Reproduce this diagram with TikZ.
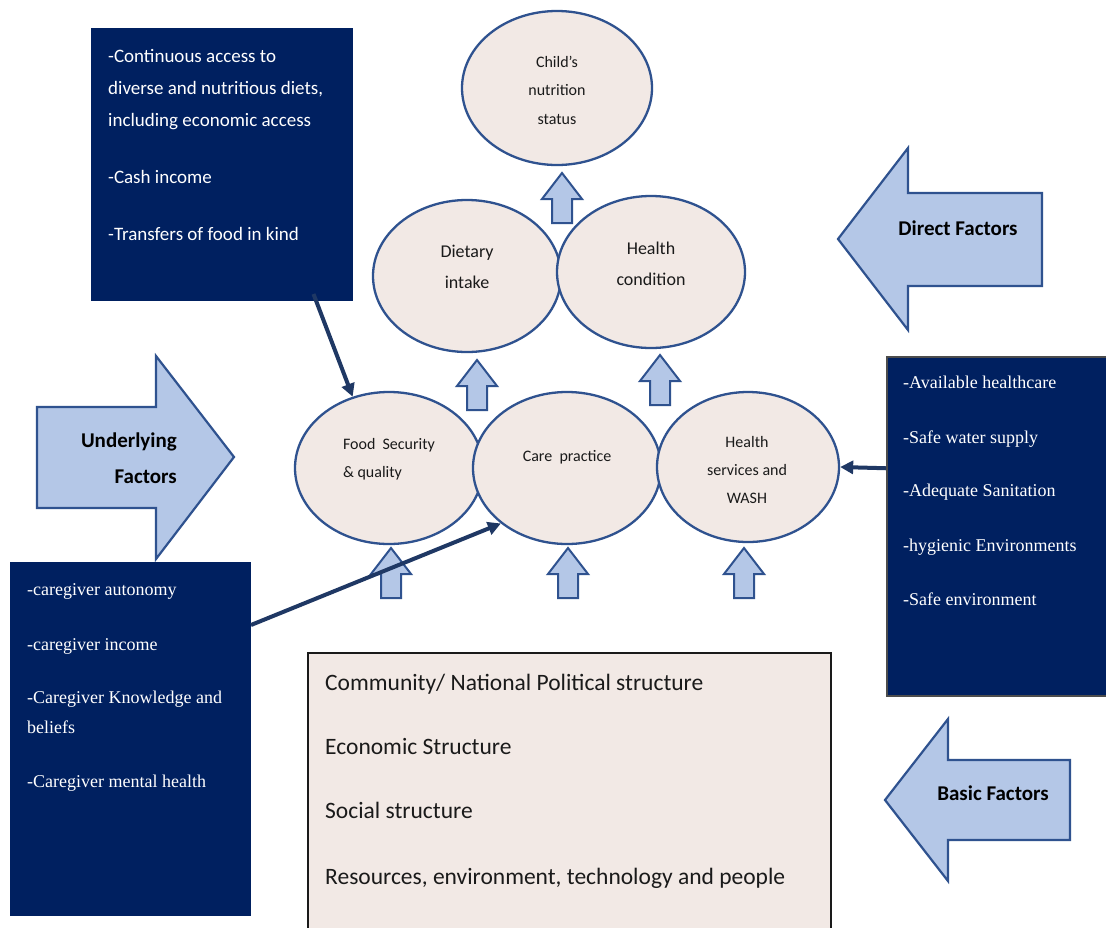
\documentclass[tikz,border=0pt]{standalone}
\usepackage{fontspec}
\setmainfont{Carlito}
\newfontfamily\serifface{Liberation Serif}
\usetikzlibrary{shapes.geometric,arrows.meta}

\definecolor{navy}{HTML}{002060}
\definecolor{linknavy}{HTML}{1F3864}
\definecolor{rimblue}{HTML}{2F528F}
\definecolor{paleblue}{HTML}{B4C7E7}
\definecolor{blush}{HTML}{F2E9E5}
\definecolor{inkgrey}{HTML}{1A1A1A}

\begin{document}
\begin{tikzpicture}[x=1pt,y=-1pt,
  oval/.style={ellipse, draw=rimblue, line width=2.3pt, fill=blush, inner sep=0pt},
  ovaltext/.style={align=center, text=inkgrey, inner sep=0pt},
  navybox/.style={fill=navy, draw=navy, line width=1pt, inner sep=0pt, anchor=north west},
  blockarrow/.style={fill=paleblue, draw=rimblue, line width=2.2pt, line join=miter},
  smallarrow/.style={fill=paleblue, draw=rimblue, line width=2pt, line join=miter},
  factor/.style={font=\fontsize{21}{36}\selectfont\bfseries, text=black, inner sep=0pt},
  listline/.style={anchor=west, inner sep=0pt, text height=1em, text depth=0em},
  sansline/.style={listline, text=white, font=\fontsize{19}{23}\selectfont},
  serifline/.style={listline, text=white, font=\serifface\fontsize{18}{22}\selectfont},
  basicline/.style={listline, text=inkgrey, font=\fontsize{23.5}{28}\selectfont},
  link/.style={draw=linknavy, line width=4pt, -{Triangle[length=13pt,width=13pt]}},
  uparrow/.pic={\draw[smallarrow] (-10,0) -- (-10,-24) -- (-20,-24) -- (0,-50)
      -- (20,-24) -- (10,-24) -- (10,0) -- cycle;}
]
\clip (0,0) rectangle (1106,927);
\fill[white] (0,0) rectangle (1106,927);

% ---------- outcome and immediate causes ----------
\node[oval, minimum width=190, minimum height=154] (child) at (557,88) {};
\node[ovaltext, font=\fontsize{16}{28.5}\selectfont] (childtxt) at (557,90)
  {Child’s\\nutrition\\status};

\node[oval, minimum width=188, minimum height=152] (diet) at (467,276) {};
\node[ovaltext, font=\fontsize{18}{31}\selectfont] (diettxt) at (467,267) {Dietary\\intake};

\node[oval, minimum width=188, minimum height=152] (hcond) at (651,272) {};
\node[ovaltext, font=\fontsize{18}{31}\selectfont] (hcondtxt) at (651,264) {Health\\condition};

% ---------- underlying causes ----------
\node[oval, minimum width=188, minimum height=152] (food) at (389,468) {};
\node[ovaltext, align=left, font=\fontsize{16}{28}\selectfont] (foodtxt) at (389,459)
  {Food\ \ Security\\\& quality};

\node[oval, minimum width=188, minimum height=152] (care) at (567,468) {};
\node[ovaltext, font=\fontsize{16}{28}\selectfont] (caretxt) at (567,457) {Care\ \ practice};

\node[oval, minimum width=182, minimum height=150] (wash) at (748,467) {};
\node[ovaltext, font=\fontsize{16}{28}\selectfont] (washtxt) at (747,470)
  {Health\\services and\\WASH};

% ---------- small upward arrows ----------
\pic (upchild) at (562,223) {uparrow};
\pic (updiet)  at (477,410) {uparrow};
\pic (uphcond) at (660,405) {uparrow};
\pic (upfood)  at (391,598) {uparrow};
\pic (upcare)  at (568,598) {uparrow};
\pic (upwash)  at (744,598) {uparrow};

% ---------- factor arrows ----------
\draw[blockarrow] (838,239) -- (908,148) -- (908,193) -- (1042,193) -- (1042,286)
  -- (908,286) -- (908,330) -- cycle;
\node[factor] (direct) at (958,228) {Direct Factors};

\draw[blockarrow] (37,407) -- (156,407) -- (156,356) -- (234,457) -- (156,559)
  -- (156,508) -- (37,508) -- cycle;
\node[factor, align=right, anchor=east] (underlying) at (177,458) {Underlying\\Factors};

\draw[blockarrow] (885,800) -- (948,719) -- (948,760) -- (1070,760) -- (1070,840)
  -- (948,840) -- (948,881) -- cycle;
\node[factor] (basic) at (993,793) {Basic Factors};

% ---------- food security box ----------
\node[navybox, minimum width=261, minimum height=272] (foodbox) at (91,28) {};
\node[sansline] (fb1) at (108,57)  {-Continuous access to};
\node[sansline] (fb2) at (108,89)  {diverse and nutritious diets,};
\node[sansline] (fb3) at (108,121) {including economic access};
\node[sansline] (fb4) at (108,178) {-Cash income};
\node[sansline] (fb5) at (108,235) {-Transfers of food in kind};

% ---------- caregiver box ----------
\node[navybox, minimum width=240, minimum height=353] (carebox) at (10,562) {};
\node[serifline] (cb1) at (27,590) {-caregiver autonomy};
\node[serifline] (cb2) at (27,645) {-caregiver income};
\node[serifline] (cb3) at (27,698) {-Caregiver Knowledge and};
\node[serifline] (cb4) at (27,728) {beliefs};
\node[serifline] (cb5) at (27,782) {-Caregiver mental health};

% ---------- health services box ----------
\node[navybox, draw=black!70, line width=1.5pt, minimum width=230, minimum height=339]
  (washbox) at (886,356) {};
\node[serifline] (wb1) at (903,383) {-Available healthcare};
\node[serifline] (wb2) at (903,438) {-Safe water supply};
\node[serifline] (wb3) at (903,491) {-Adequate Sanitation};
\node[serifline] (wb4) at (903,546) {-hygienic Environments};
\node[serifline] (wb5) at (903,600) {-Safe environment};

% ---------- basic structures box ----------
\node[draw=inkgrey, line width=1.5pt, fill=blush, inner sep=0pt, anchor=north west,
  minimum width=523, minimum height=300] (basicbox) at (307,652) {};
\node[basicline] (bb1) at (325,685) {Community/ National Political structure};
\node[basicline] (bb2) at (325,749) {Economic Structure};
\node[basicline] (bb3) at (325,813) {Social structure};
\node[basicline] (bb4) at (325,879) {Resources, environment, technology and people};

% ---------- connectors ----------
\draw[link] ([xshift=91.5pt,yshift=7pt]foodbox.south) -- (food.117);
\draw[link] ([yshift=114pt]carebox.east) -- (care.220);
\draw[link] ([yshift=58pt]washbox.west) -- (wash.east);

\end{tikzpicture}
\end{document}
